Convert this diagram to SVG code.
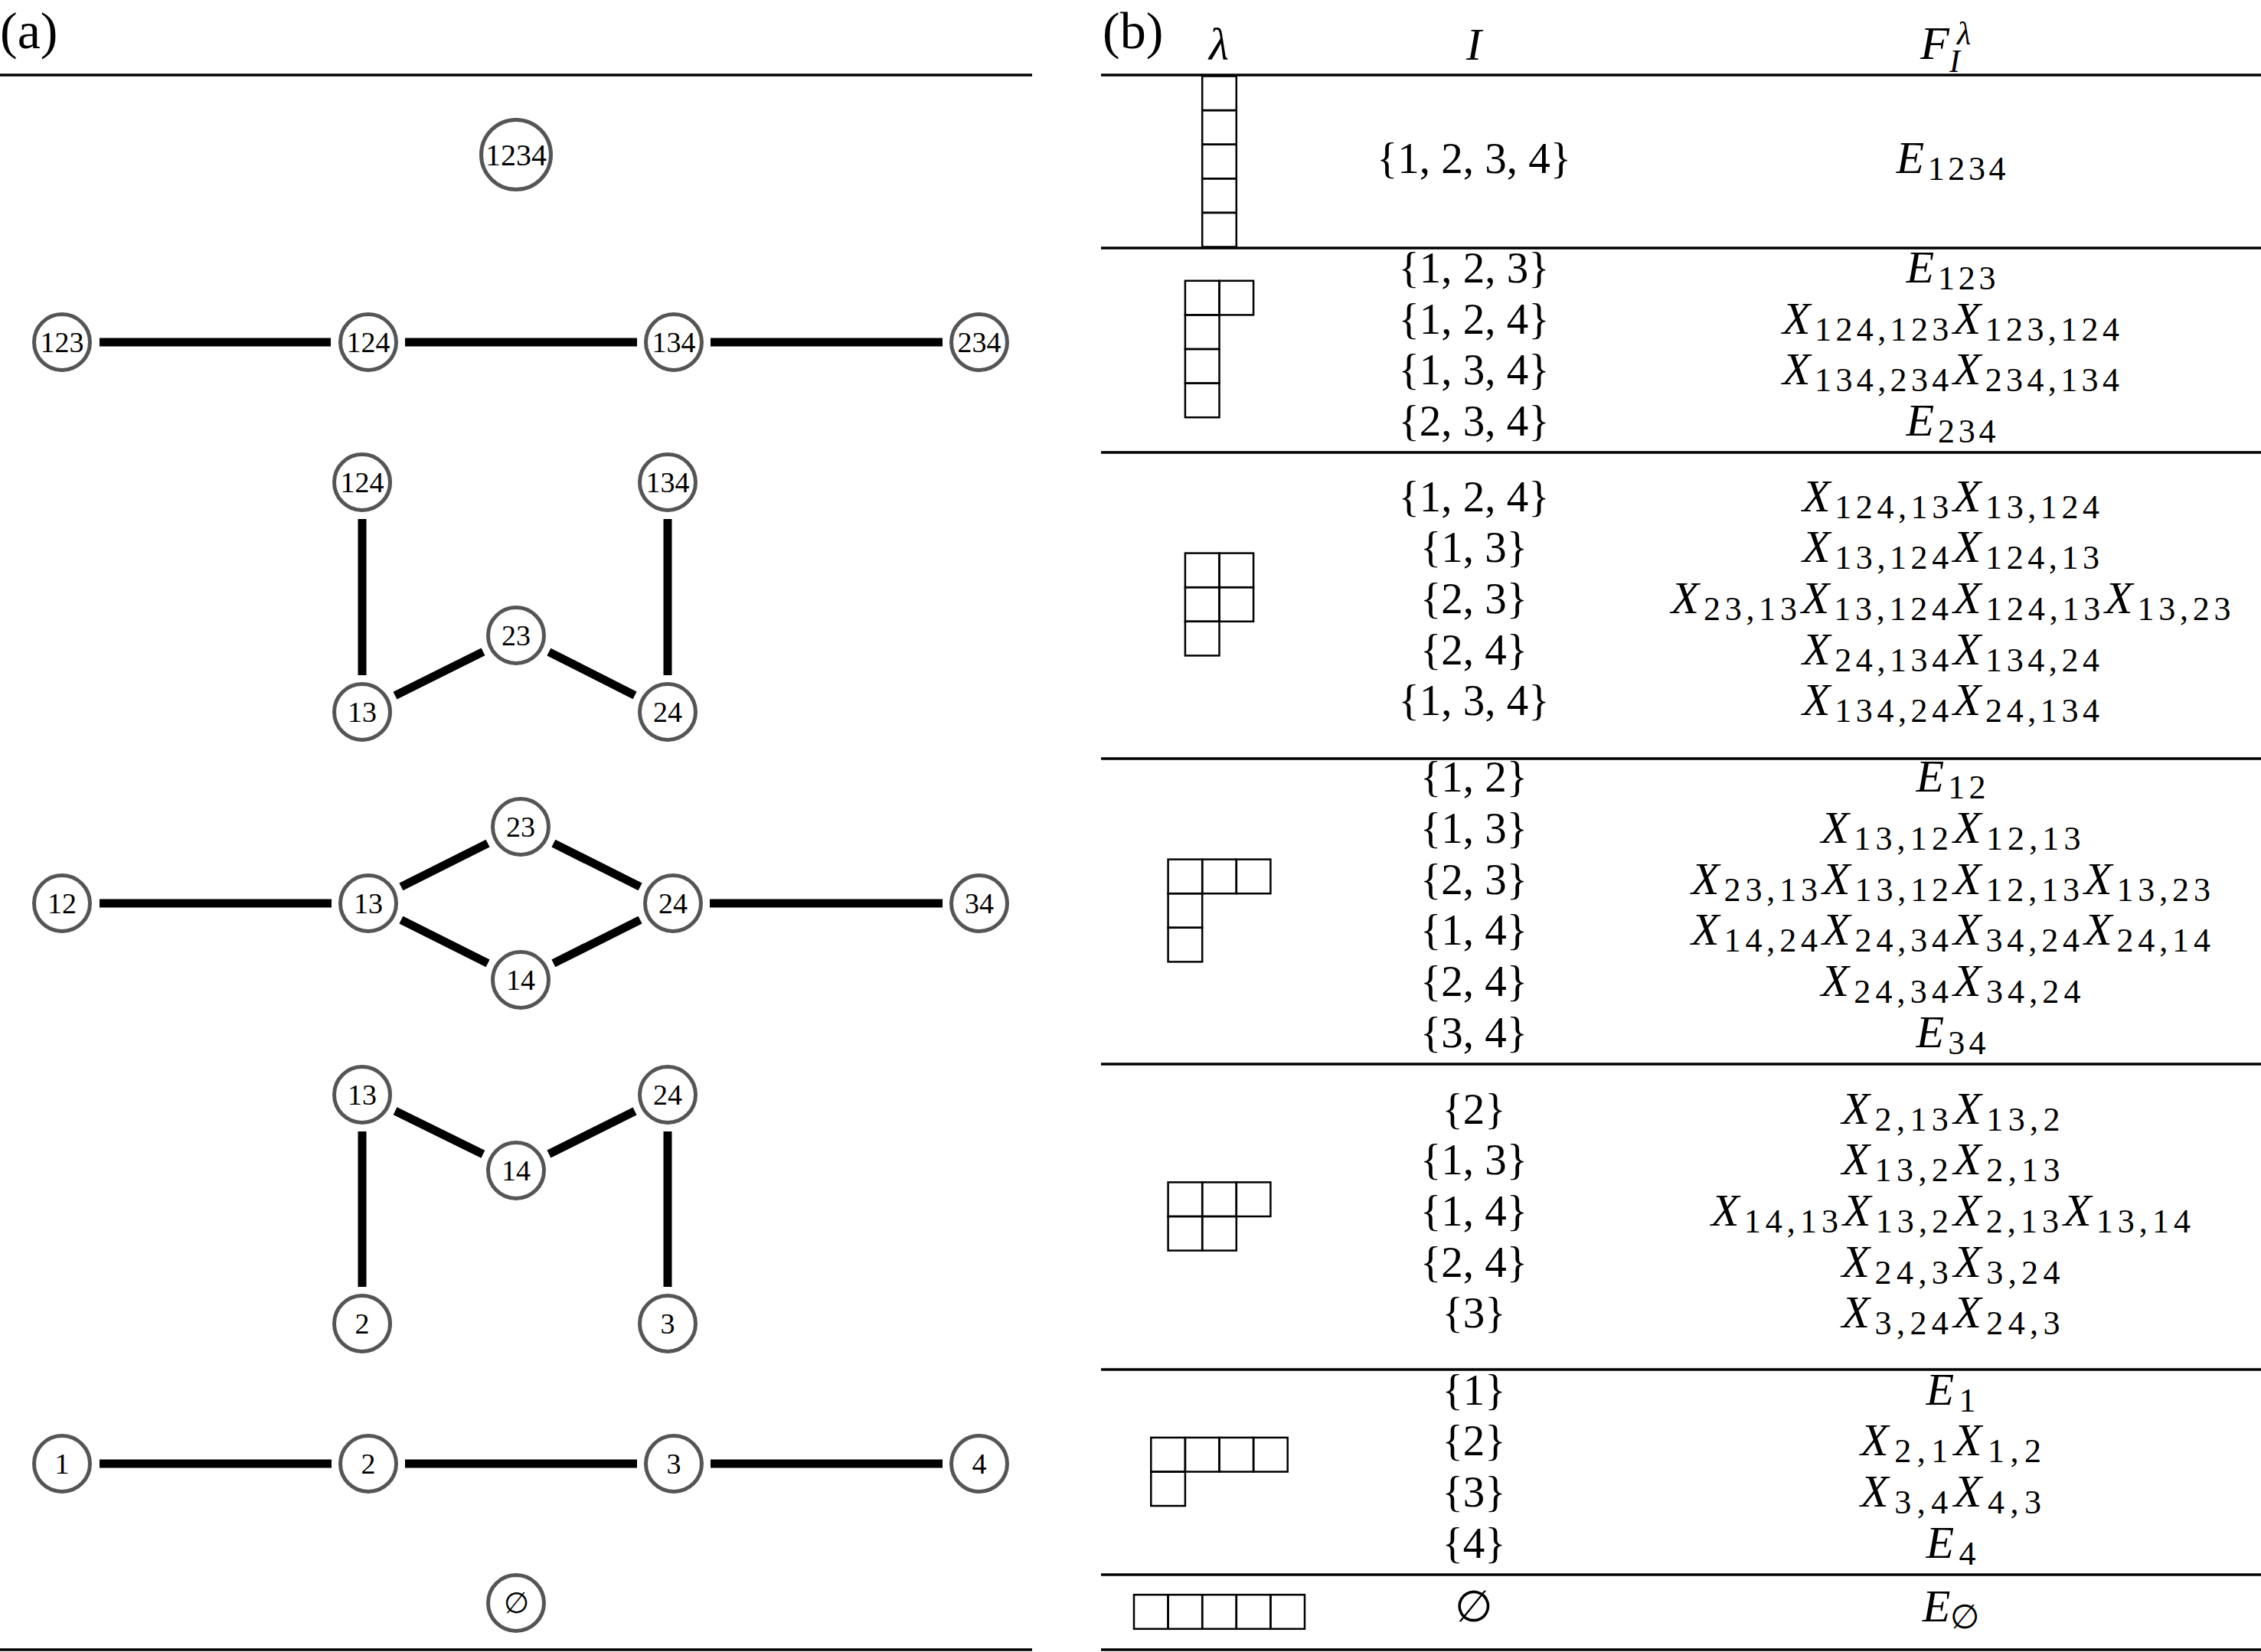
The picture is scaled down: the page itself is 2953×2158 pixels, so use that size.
<svg xmlns="http://www.w3.org/2000/svg" width="2953" height="2158" viewBox="0 0 2953 2158">
<style>
.rule{stroke:#000;stroke-width:3.5}
.node circle{fill:#fff;stroke:#555;stroke-width:5}
.node text{font-family:"Liberation Serif","DejaVu Serif",serif;font-size:38px;text-anchor:middle;fill:#000}
#connectors line{stroke:#000;stroke-width:11}
.yd rect{fill:none;stroke:#000;stroke-width:2.5}
.t{font-family:"Liberation Serif","DejaVu Serif",serif;font-size:57px;text-anchor:middle;fill:#000}
.lbl{font-family:"Liberation Serif","DejaVu Serif",serif;font-size:68px;fill:#000}
.i{font-style:italic}
.s{font-size:44px;font-style:normal}
.f{font-size:60px;font-style:italic}
</style>
<rect width="2953" height="2158" fill="#fff"/>

<!-- panel labels -->
<text class="lbl" x="0" y="63">(a)</text>
<text class="lbl" x="1440" y="63">(b)</text>

<!-- rules -->
<g id="rules">
<line class="rule" x1="0" y1="98" x2="1348" y2="98"/>
<line class="rule" x1="0" y1="2155" x2="1348" y2="2155"/>
<line class="rule" x1="1438" y1="98" x2="2953" y2="98"/>
<line class="rule" x1="1438" y1="324" x2="2953" y2="324"/>
<line class="rule" x1="1438" y1="591" x2="2953" y2="591"/>
<line class="rule" x1="1438" y1="991" x2="2953" y2="991"/>
<line class="rule" x1="1438" y1="1390" x2="2953" y2="1390"/>
<line class="rule" x1="1438" y1="1789" x2="2953" y2="1789"/>
<line class="rule" x1="1438" y1="2057" x2="2953" y2="2057"/>
<line class="rule" x1="1438" y1="2155" x2="2953" y2="2155"/>
</g>

<!-- connectors -->
<g id="connectors">
<line x1="130" y1="447" x2="432" y2="447"/>
<line x1="529" y1="447" x2="832" y2="447"/>
<line x1="928" y1="447" x2="1231" y2="447"/>
<line x1="473" y1="678" x2="473" y2="882"/>
<line x1="872" y1="678" x2="872" y2="882"/>
<line x1="516" y1="908.6" x2="631" y2="851.4"/>
<line x1="716.9" y1="851.6" x2="829.1" y2="908.4"/>
<line x1="130" y1="1180" x2="433" y2="1180"/>
<line x1="927" y1="1180" x2="1231" y2="1180"/>
<line x1="523.9" y1="1158.4" x2="637.1" y2="1101.6"/>
<line x1="523.9" y1="1201.6" x2="637.1" y2="1258.4"/>
<line x1="722.9" y1="1101.6" x2="836.1" y2="1158.4"/>
<line x1="722.9" y1="1258.4" x2="836.1" y2="1201.6"/>
<line x1="473" y1="1478" x2="473" y2="1681"/>
<line x1="872" y1="1478" x2="872" y2="1681"/>
<line x1="516.1" y1="1451.2" x2="630.9" y2="1507.8"/>
<line x1="716.9" y1="1507.5" x2="829.1" y2="1451.5"/>
<line x1="130" y1="1912" x2="433" y2="1912"/>
<line x1="529" y1="1912" x2="832" y2="1912"/>
<line x1="928" y1="1912" x2="1231" y2="1912"/>
</g>

<!-- nodes -->
<g id="g1-1234" class="node"><circle cx="674" cy="202" r="45.5"/><text x="674" y="216" style="font-size:40px">1234</text></g>

<g id="g2-123" class="node"><circle cx="81" cy="447" r="36.5"/><text x="81" y="460">123</text></g>
<g id="g2-124" class="node"><circle cx="481" cy="447" r="36.5"/><text x="481" y="460">124</text></g>
<g id="g2-134" class="node"><circle cx="880" cy="447" r="36.5"/><text x="880" y="460">134</text></g>
<g id="g2-234" class="node"><circle cx="1279" cy="447" r="36.5"/><text x="1279" y="460">234</text></g>

<g id="g3-124" class="node"><circle cx="473" cy="630" r="36.5"/><text x="473" y="643">124</text></g>
<g id="g3-134" class="node"><circle cx="872" cy="630" r="36.5"/><text x="872" y="643">134</text></g>
<g id="g3-23" class="node"><circle cx="674" cy="830" r="36.5"/><text x="674" y="843">23</text></g>
<g id="g3-13" class="node"><circle cx="473" cy="930" r="36.5"/><text x="473" y="943">13</text></g>
<g id="g3-24" class="node"><circle cx="872" cy="930" r="36.5"/><text x="872" y="943">24</text></g>

<g id="g4-23" class="node"><circle cx="680" cy="1080" r="36.5"/><text x="680" y="1093">23</text></g>
<g id="g4-12" class="node"><circle cx="81" cy="1180" r="36.5"/><text x="81" y="1193">12</text></g>
<g id="g4-13" class="node"><circle cx="481" cy="1180" r="36.5"/><text x="481" y="1193">13</text></g>
<g id="g4-24" class="node"><circle cx="879" cy="1180" r="36.5"/><text x="879" y="1193">24</text></g>
<g id="g4-34" class="node"><circle cx="1279" cy="1180" r="36.5"/><text x="1279" y="1193">34</text></g>
<g id="g4-14" class="node"><circle cx="680" cy="1280" r="36.5"/><text x="680" y="1293">14</text></g>

<g id="g5-13" class="node"><circle cx="473" cy="1430" r="36.5"/><text x="473" y="1443">13</text></g>
<g id="g5-24" class="node"><circle cx="872" cy="1430" r="36.5"/><text x="872" y="1443">24</text></g>
<g id="g5-14" class="node"><circle cx="674" cy="1529" r="36.5"/><text x="674" y="1542">14</text></g>
<g id="g5-2" class="node"><circle cx="473" cy="1729" r="36.5"/><text x="473" y="1742">2</text></g>
<g id="g5-3" class="node"><circle cx="872" cy="1729" r="36.5"/><text x="872" y="1742">3</text></g>

<g id="g6-1" class="node"><circle cx="81" cy="1912" r="36.5"/><text x="81" y="1925">1</text></g>
<g id="g6-2" class="node"><circle cx="481" cy="1912" r="36.5"/><text x="481" y="1925">2</text></g>
<g id="g6-3" class="node"><circle cx="880" cy="1912" r="36.5"/><text x="880" y="1925">3</text></g>
<g id="g6-4" class="node"><circle cx="1279" cy="1912" r="36.5"/><text x="1279" y="1925">4</text></g>

<g id="g7-empty" class="node"><circle cx="674" cy="2094" r="36.5"/><text x="674" y="2107">∅</text></g>

<!-- table header -->
<g id="header">
<text class="t i" x="1592" y="78" style="font-size:60px">λ</text>
<text class="t i" x="1925" y="78" style="font-size:60px">I</text>
<text class="t i" x="2508" y="77" style="text-anchor:start;font-size:62px">F</text>
<text class="t i" x="2556" y="58" style="text-anchor:start;font-size:42px">λ</text>
<text class="t i" x="2546" y="94" style="text-anchor:start;font-size:42px">I</text>
</g>

<!-- Young diagrams -->
<g id="yd1" class="yd">
<rect x="1570.2" y="99.5" width="44.6" height="44.6"/>
<rect x="1570.2" y="144.1" width="44.6" height="44.6"/>
<rect x="1570.2" y="188.7" width="44.6" height="44.6"/>
<rect x="1570.2" y="233.3" width="44.6" height="44.6"/>
<rect x="1570.2" y="277.9" width="44.6" height="44.6"/>
</g>
<g id="yd2" class="yd">
<rect x="1547.9" y="366.8" width="44.6" height="44.6"/>
<rect x="1592.5" y="366.8" width="44.6" height="44.6"/>
<rect x="1547.9" y="411.4" width="44.6" height="44.6"/>
<rect x="1547.9" y="456.0" width="44.6" height="44.6"/>
<rect x="1547.9" y="500.6" width="44.6" height="44.6"/>
</g>
<g id="yd3" class="yd">
<rect x="1547.9" y="722.6" width="44.6" height="44.6"/>
<rect x="1592.5" y="722.6" width="44.6" height="44.6"/>
<rect x="1547.9" y="767.2" width="44.6" height="44.6"/>
<rect x="1592.5" y="767.2" width="44.6" height="44.6"/>
<rect x="1547.9" y="811.8" width="44.6" height="44.6"/>
</g>
<g id="yd4" class="yd">
<rect x="1525.6" y="1122.6" width="44.6" height="44.6"/>
<rect x="1570.2" y="1122.6" width="44.6" height="44.6"/>
<rect x="1614.8" y="1122.6" width="44.6" height="44.6"/>
<rect x="1525.6" y="1167.2" width="44.6" height="44.6"/>
<rect x="1525.6" y="1211.8" width="44.6" height="44.6"/>
</g>
<g id="yd5" class="yd">
<rect x="1525.6" y="1544.4" width="44.6" height="44.6"/>
<rect x="1570.2" y="1544.4" width="44.6" height="44.6"/>
<rect x="1614.8" y="1544.4" width="44.6" height="44.6"/>
<rect x="1525.6" y="1589.0" width="44.6" height="44.6"/>
<rect x="1570.2" y="1589.0" width="44.6" height="44.6"/>
</g>
<g id="yd6" class="yd">
<rect x="1503.3" y="1877.9" width="44.6" height="44.6"/>
<rect x="1547.9" y="1877.9" width="44.6" height="44.6"/>
<rect x="1592.5" y="1877.9" width="44.6" height="44.6"/>
<rect x="1637.1" y="1877.9" width="44.6" height="44.6"/>
<rect x="1503.3" y="1922.5" width="44.6" height="44.6"/>
</g>
<g id="yd7" class="yd">
<rect x="1481.0" y="2083.2" width="44.6" height="44.6"/>
<rect x="1525.6" y="2083.2" width="44.6" height="44.6"/>
<rect x="1570.2" y="2083.2" width="44.6" height="44.6"/>
<rect x="1614.8" y="2083.2" width="44.6" height="44.6"/>
<rect x="1659.4" y="2083.2" width="44.6" height="44.6"/>
</g>

<!-- I column -->
<g id="col-I" class="t">
<text x="1925" y="226">{1, 2, 3, 4}</text>
<text x="1925" y="369">{1, 2, 3}</text>
<text x="1925" y="436">{1, 2, 4}</text>
<text x="1925" y="502">{1, 3, 4}</text>
<text x="1925" y="569">{2, 3, 4}</text>
<text x="1925" y="668">{1, 2, 4}</text>
<text x="1925" y="734">{1, 3}</text>
<text x="1925" y="801">{2, 3}</text>
<text x="1925" y="868">{2, 4}</text>
<text x="1925" y="934">{1, 3, 4}</text>
<text x="1925" y="1034">{1, 2}</text>
<text x="1925" y="1101">{1, 3}</text>
<text x="1925" y="1168">{2, 3}</text>
<text x="1925" y="1234">{1, 4}</text>
<text x="1925" y="1301">{2, 4}</text>
<text x="1925" y="1368">{3, 4}</text>
<text x="1925" y="1468">{2}</text>
<text x="1925" y="1534">{1, 3}</text>
<text x="1925" y="1601">{1, 4}</text>
<text x="1925" y="1668">{2, 4}</text>
<text x="1925" y="1734">{3}</text>
<text x="1925" y="1835">{1}</text>
<text x="1925" y="1901">{2}</text>
<text x="1925" y="1968">{3}</text>
<text x="1925" y="2035">{4}</text>
<text x="1925" y="2118">∅</text>
</g>

<!-- F column -->
<g id="col-F" class="t">
<text x="2548" y="226" textLength="143" lengthAdjust="spacing"><tspan class="f">E</tspan><tspan class="s" dy="9">1234</tspan></text>
<text x="2548" y="369" textLength="117" lengthAdjust="spacing"><tspan class="f">E</tspan><tspan class="s" dy="9">123</tspan></text>
<text x="2548" y="436" textLength="440" lengthAdjust="spacing"><tspan class="f">X</tspan><tspan class="s" dy="9">124,123</tspan><tspan class="f" dy="-9">X</tspan><tspan class="s" dy="9">123,124</tspan></text>
<text x="2548" y="502" textLength="440" lengthAdjust="spacing"><tspan class="f">X</tspan><tspan class="s" dy="9">134,234</tspan><tspan class="f" dy="-9">X</tspan><tspan class="s" dy="9">234,134</tspan></text>
<text x="2548" y="569" textLength="117" lengthAdjust="spacing"><tspan class="f">E</tspan><tspan class="s" dy="9">234</tspan></text>

<text x="2548" y="668" textLength="388" lengthAdjust="spacing"><tspan class="f">X</tspan><tspan class="s" dy="9">124,13</tspan><tspan class="f" dy="-9">X</tspan><tspan class="s" dy="9">13,124</tspan></text>
<text x="2548" y="734" textLength="388" lengthAdjust="spacing"><tspan class="f">X</tspan><tspan class="s" dy="9">13,124</tspan><tspan class="f" dy="-9">X</tspan><tspan class="s" dy="9">124,13</tspan></text>
<text x="2548" y="801" textLength="731" lengthAdjust="spacing"><tspan class="f">X</tspan><tspan class="s" dy="9">23,13</tspan><tspan class="f" dy="-9">X</tspan><tspan class="s" dy="9">13,124</tspan><tspan class="f" dy="-9">X</tspan><tspan class="s" dy="9">124,13</tspan><tspan class="f" dy="-9">X</tspan><tspan class="s" dy="9">13,23</tspan></text>
<text x="2548" y="868" textLength="388" lengthAdjust="spacing"><tspan class="f">X</tspan><tspan class="s" dy="9">24,134</tspan><tspan class="f" dy="-9">X</tspan><tspan class="s" dy="9">134,24</tspan></text>
<text x="2548" y="934" textLength="388" lengthAdjust="spacing"><tspan class="f">X</tspan><tspan class="s" dy="9">134,24</tspan><tspan class="f" dy="-9">X</tspan><tspan class="s" dy="9">24,134</tspan></text>

<text x="2548" y="1034" textLength="91" lengthAdjust="spacing"><tspan class="f">E</tspan><tspan class="s" dy="9">12</tspan></text>
<text x="2548" y="1101" textLength="339" lengthAdjust="spacing"><tspan class="f">X</tspan><tspan class="s" dy="9">13,12</tspan><tspan class="f" dy="-9">X</tspan><tspan class="s" dy="9">12,13</tspan></text>
<text x="2548" y="1168" textLength="678" lengthAdjust="spacing"><tspan class="f">X</tspan><tspan class="s" dy="9">23,13</tspan><tspan class="f" dy="-9">X</tspan><tspan class="s" dy="9">13,12</tspan><tspan class="f" dy="-9">X</tspan><tspan class="s" dy="9">12,13</tspan><tspan class="f" dy="-9">X</tspan><tspan class="s" dy="9">13,23</tspan></text>
<text x="2548" y="1234" textLength="678" lengthAdjust="spacing"><tspan class="f">X</tspan><tspan class="s" dy="9">14,24</tspan><tspan class="f" dy="-9">X</tspan><tspan class="s" dy="9">24,34</tspan><tspan class="f" dy="-9">X</tspan><tspan class="s" dy="9">34,24</tspan><tspan class="f" dy="-9">X</tspan><tspan class="s" dy="9">24,14</tspan></text>
<text x="2548" y="1301" textLength="339" lengthAdjust="spacing"><tspan class="f">X</tspan><tspan class="s" dy="9">24,34</tspan><tspan class="f" dy="-9">X</tspan><tspan class="s" dy="9">34,24</tspan></text>
<text x="2548" y="1368" textLength="91" lengthAdjust="spacing"><tspan class="f">E</tspan><tspan class="s" dy="9">34</tspan></text>

<text x="2548" y="1468" textLength="285" lengthAdjust="spacing"><tspan class="f">X</tspan><tspan class="s" dy="9">2,13</tspan><tspan class="f" dy="-9">X</tspan><tspan class="s" dy="9">13,2</tspan></text>
<text x="2548" y="1534" textLength="285" lengthAdjust="spacing"><tspan class="f">X</tspan><tspan class="s" dy="9">13,2</tspan><tspan class="f" dy="-9">X</tspan><tspan class="s" dy="9">2,13</tspan></text>
<text x="2548" y="1601" textLength="626" lengthAdjust="spacing"><tspan class="f">X</tspan><tspan class="s" dy="9">14,13</tspan><tspan class="f" dy="-9">X</tspan><tspan class="s" dy="9">13,2</tspan><tspan class="f" dy="-9">X</tspan><tspan class="s" dy="9">2,13</tspan><tspan class="f" dy="-9">X</tspan><tspan class="s" dy="9">13,14</tspan></text>
<text x="2548" y="1668" textLength="285" lengthAdjust="spacing"><tspan class="f">X</tspan><tspan class="s" dy="9">24,3</tspan><tspan class="f" dy="-9">X</tspan><tspan class="s" dy="9">3,24</tspan></text>
<text x="2548" y="1734" textLength="285" lengthAdjust="spacing"><tspan class="f">X</tspan><tspan class="s" dy="9">3,24</tspan><tspan class="f" dy="-9">X</tspan><tspan class="s" dy="9">24,3</tspan></text>

<text x="2548" y="1835" textLength="65" lengthAdjust="spacing"><tspan class="f">E</tspan><tspan class="s" dy="9">1</tspan></text>
<text x="2548" y="1901" textLength="236" lengthAdjust="spacing"><tspan class="f">X</tspan><tspan class="s" dy="9">2,1</tspan><tspan class="f" dy="-9">X</tspan><tspan class="s" dy="9">1,2</tspan></text>
<text x="2548" y="1968" textLength="236" lengthAdjust="spacing"><tspan class="f">X</tspan><tspan class="s" dy="9">3,4</tspan><tspan class="f" dy="-9">X</tspan><tspan class="s" dy="9">4,3</tspan></text>
<text x="2548" y="2035" textLength="65" lengthAdjust="spacing"><tspan class="f">E</tspan><tspan class="s" dy="9">4</tspan></text>

<text x="2548" y="2118"><tspan class="f">E</tspan><tspan class="s" dy="9">∅</tspan></text>
</g>
</svg>
